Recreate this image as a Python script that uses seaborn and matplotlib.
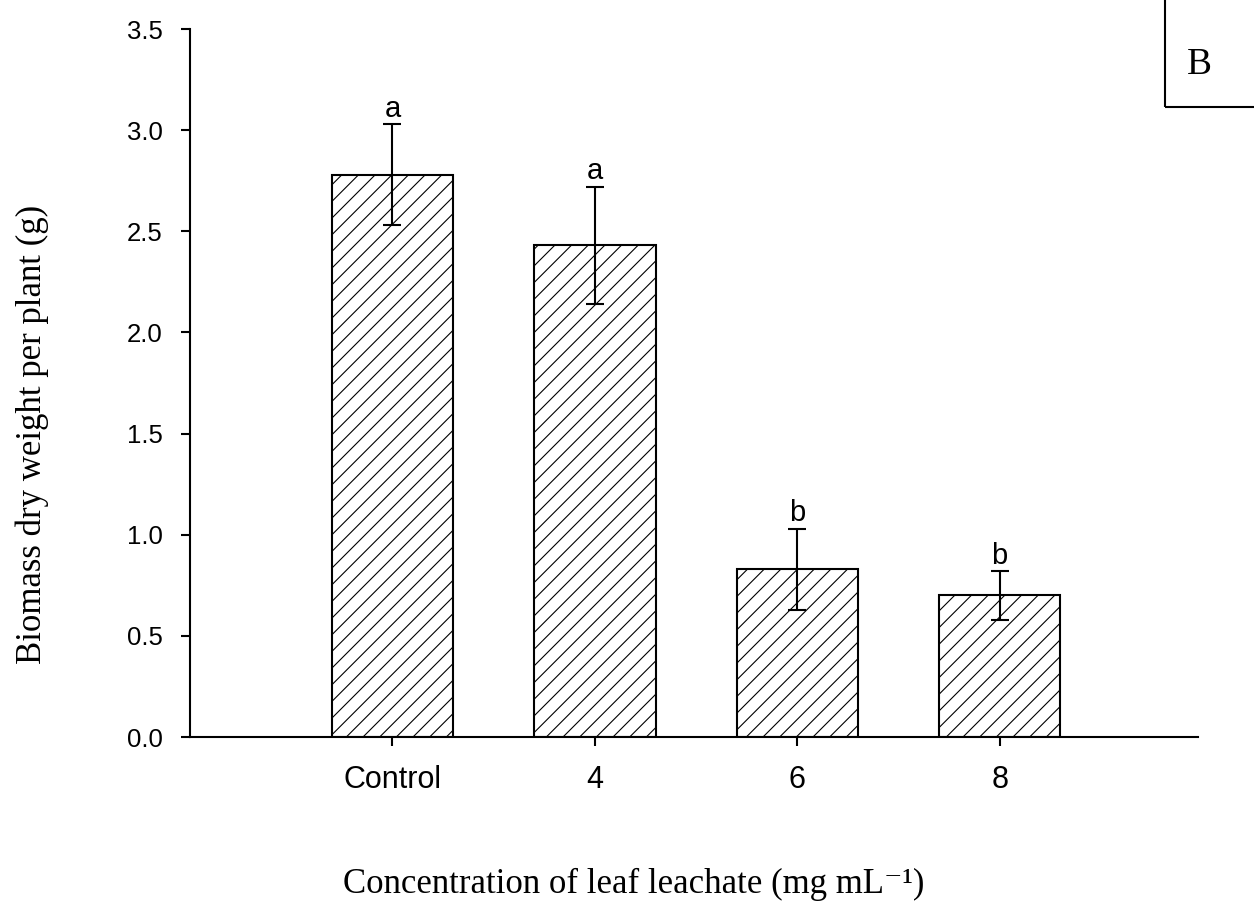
import matplotlib
matplotlib.use('Agg')
import matplotlib.pyplot as plt
from matplotlib.patches import Rectangle
import seaborn as sns
import pandas as pd

categories = ['Control', '4', '6', '8']
means = [2.78, 2.43, 0.83, 0.70]
errors = [0.25, 0.29, 0.20, 0.12]
letters = ['a', 'a', 'b', 'b']
yticks = [0.0, 0.5, 1.0, 1.5, 2.0, 2.5, 3.0, 3.5]

sns.set_theme(style='ticks')
plt.rcParams['font.family'] = ['Liberation Sans', 'DejaVu Sans']
plt.rcParams['hatch.linewidth'] = 0.8
plt.rcParams['hatch.color'] = 'black'

W, H = 1254, 913
fig = plt.figure(figsize=(W / 100, H / 100), dpi=100)
ax = fig.add_axes([190 / W, (H - 737) / H, (1198 - 190) / W, (737 - 29) / H])

df = pd.DataFrame({'conc': categories, 'mean': means})
sns.barplot(data=df, x='conc', y='mean', ax=ax, color='white', saturation=1,
            edgecolor='black', linewidth=1.5, width=0.6, hatch='//', errorbar=None)
ax.errorbar(range(len(categories)), means, yerr=errors, fmt='none', ecolor='black',
            elinewidth=1.5, capsize=6.5, capthick=1.5)
for i, (m, e, l) in enumerate(zip(means, errors, letters)):
    ax.annotate(l, (i, m + e), xytext=(0, 1), textcoords='offset points',
                ha='center', va='bottom', fontsize=21, color='black')

ax.set_xlim(-1.0, 3.98)
ax.set_ylim(0, 3.5)
ax.set_yticks(yticks)
ax.set_yticklabels([f'{v:.1f}' for v in yticks])
ax.set_xlabel('')
ax.set_ylabel('')
sns.despine(ax=ax)
for s in ['left', 'bottom']:
    ax.spines[s].set_linewidth(1.5)
    ax.spines[s].set_color('black')
ax.tick_params(axis='both', direction='out', length=6.5, width=1.5, color='black',
               labelcolor='black')
ax.tick_params(axis='x', pad=14, labelsize=22)
ax.tick_params(axis='y', pad=13, labelsize=18.5)

serif = ['Liberation Serif', 'DejaVu Serif']
fig.text(634 / W, 1 - 884 / H, 'Concentration of leaf leachate (mg mL\u207b\u00b9)',
         ha='center', va='center', fontsize=25, family=serif, color='black')
fig.text(32 / W, 1 - 434 / H, 'Biomass dry weight per plant (g)', rotation=90,
         ha='center', va='center', fontsize=25, family=serif, color='black')

fig.patches.append(Rectangle((1165 / W, 1 - 107 / H), 0.2, 0.2, transform=fig.transFigure,
                             fill=False, edgecolor='black', linewidth=1.5))
fig.text(1199 / W, 1 - 65 / H, 'B', ha='center', va='center', fontsize=27,
         family=serif, color='black')

fig.savefig('out.png', dpi=100)
